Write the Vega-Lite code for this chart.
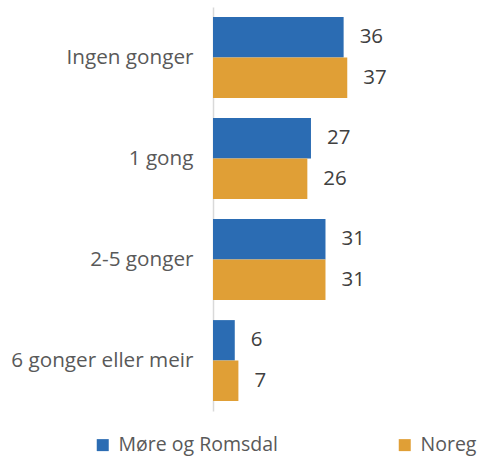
{
  "$schema": "https://vega.github.io/schema/vega-lite/v6.json",
  "width": 254,
  "height": 404,
  "autosize": {"type": "none"},
  "padding": {"left": 213, "top": 7, "right": 12, "bottom": 46},
  "background": "white",
  "config": {
    "view": {"stroke": null},
    "font": "Open Sans"
  },
  "data": {
    "values": [
      {"kategori": "Ingen gonger", "serie": "Møre og Romsdal", "verdi": 36},
      {"kategori": "Ingen gonger", "serie": "Noreg", "verdi": 37},
      {"kategori": "1 gong", "serie": "Møre og Romsdal", "verdi": 27},
      {"kategori": "1 gong", "serie": "Noreg", "verdi": 26},
      {"kategori": "2-5 gonger", "serie": "Møre og Romsdal", "verdi": 31},
      {"kategori": "2-5 gonger", "serie": "Noreg", "verdi": 31},
      {"kategori": "6 gonger eller meir", "serie": "Møre og Romsdal", "verdi": 6},
      {"kategori": "6 gonger eller meir", "serie": "Noreg", "verdi": 7}
    ]
  },
  "encoding": {
    "y": {
      "field": "kategori",
      "type": "nominal",
      "sort": ["Ingen gonger", "1 gong", "2-5 gonger", "6 gonger eller meir"],
      "scale": {"paddingInner": 0.2, "paddingOuter": 0.1},
      "axis": {
        "title": null,
        "ticks": false,
        "domainColor": "#d9d9d9",
        "domainWidth": 1.5,
        "labelFontSize": 20.7,
        "labelColor": "#595959",
        "labelPadding": 20,
        "labelLimit": 300
      }
    },
    "yOffset": {
      "field": "serie",
      "type": "nominal",
      "sort": ["Møre og Romsdal", "Noreg"],
      "scale": {"paddingInner": 0, "paddingOuter": 0}
    },
    "x": {
      "field": "verdi",
      "type": "quantitative",
      "scale": {"domain": [0, 70]},
      "axis": null
    }
  },
  "layer": [
    {
      "mark": {"type": "bar"},
      "encoding": {
        "color": {
          "field": "serie",
          "type": "nominal",
          "sort": ["Møre og Romsdal", "Noreg"],
          "scale": {"domain": ["Møre og Romsdal", "Noreg"], "range": ["#2b6cb3", "#e09f36"]},
          "legend": {
            "title": null,
            "orient": "none",
            "direction": "horizontal",
            "legendX": -120,
            "legendY": 428,
            "symbolType": "square",
            "symbolSize": 144,
            "symbolStrokeWidth": 0,
            "labelFontSize": 19.5,
            "labelColor": "#595959",
            "labelOffset": 6,
            "columnPadding": 117,
            "labelLimit": 300
          }
        }
      }
    },
    {
      "mark": {"type": "text", "align": "left", "baseline": "middle", "dx": 16, "fontSize": 20.5, "color": "#404040"},
      "encoding": {
        "text": {"field": "verdi", "type": "quantitative"}
      }
    }
  ]
}
